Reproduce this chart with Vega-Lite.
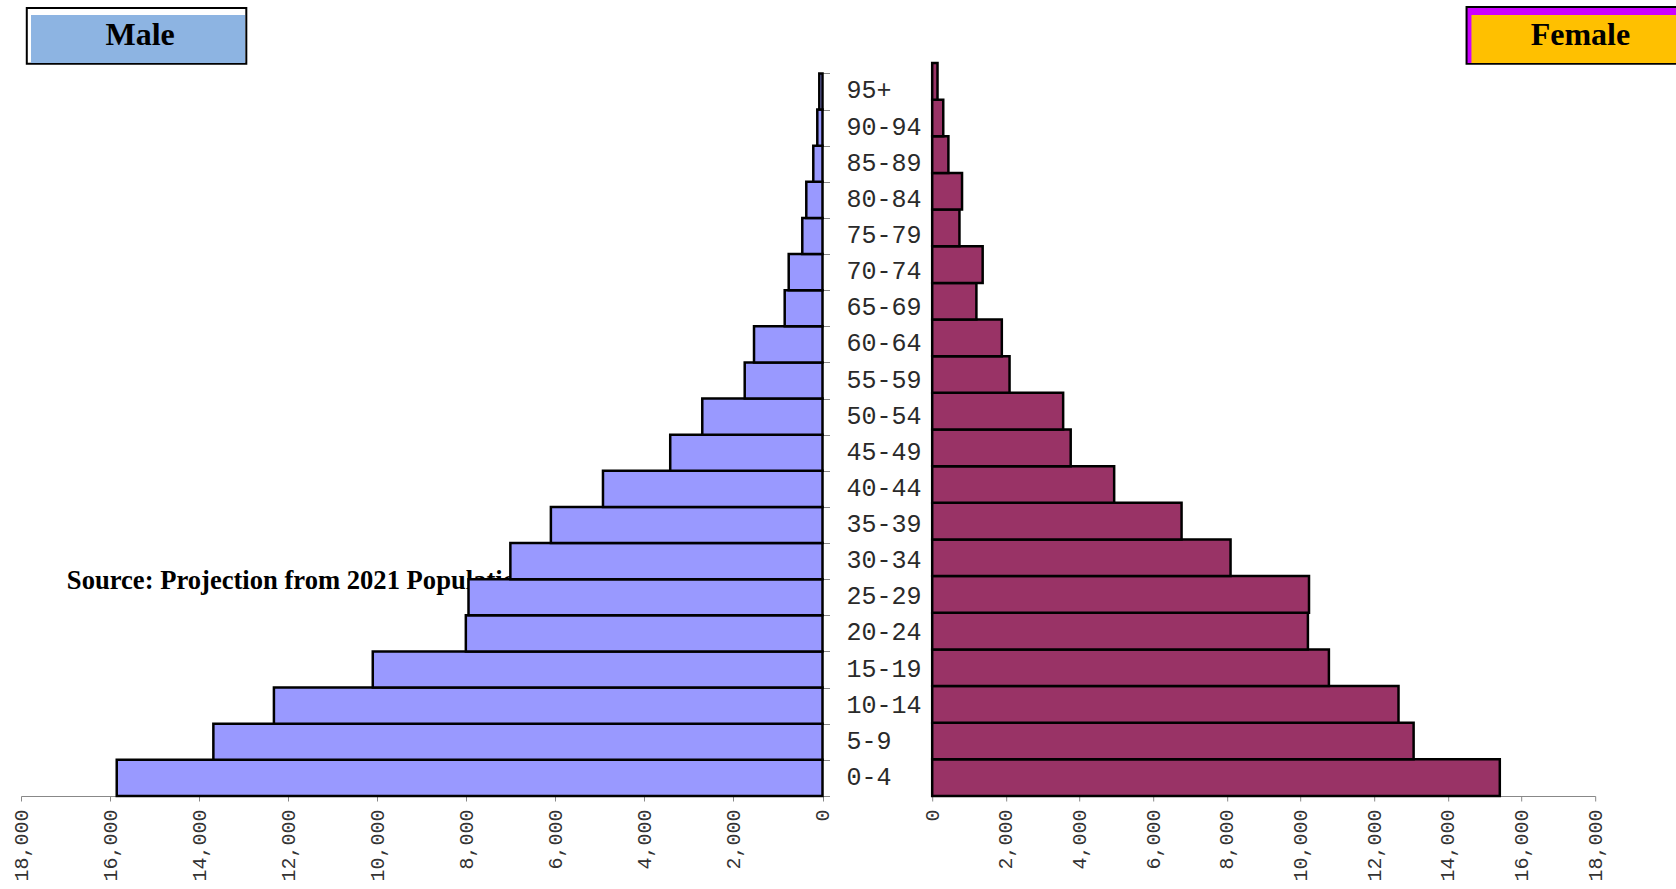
{
  "$schema": "https://vega.github.io/schema/vega-lite/v6.json",
  "padding": {"left": 11, "top": 5, "right": 0, "bottom": 0},
  "background": "white",
  "config": {
    "view": {"stroke": null},
    "axis": {"domainColor": "#888888", "tickColor": "#888888", "labelColor": "#333333", "grid": false}
  },
  "datasets": {
    "pop": [
      {"age": "0-4", "male": 15850, "female": 15410},
      {"age": "5-9", "male": 13680, "female": 13070},
      {"age": "10-14", "male": 12320, "female": 12660},
      {"age": "15-19", "male": 10100, "female": 10770},
      {"age": "20-24", "male": 8010, "female": 10200},
      {"age": "25-29", "male": 7950, "female": 10230},
      {"age": "30-34", "male": 7010, "female": 8100},
      {"age": "35-39", "male": 6100, "female": 6770},
      {"age": "40-44", "male": 4930, "female": 4940},
      {"age": "45-49", "male": 3420, "female": 3760},
      {"age": "50-54", "male": 2700, "female": 3555},
      {"age": "55-59", "male": 1747, "female": 2100},
      {"age": "60-64", "male": 1538, "female": 1890},
      {"age": "65-69", "male": 849, "female": 1200},
      {"age": "70-74", "male": 759, "female": 1370},
      {"age": "75-79", "male": 454, "female": 740},
      {"age": "80-84", "male": 364, "female": 810},
      {"age": "85-89", "male": 207, "female": 440},
      {"age": "90-94", "male": 117, "female": 300},
      {"age": "95+", "male": 72, "female": 144}
    ],
    "maleLabel": [{"label": "Male"}],
    "femaleLabel": [{"label": "Female"}],
    "note": [{"text": "Source: Projection from 2021 Population Census"}]
  },
  "columns": 2,
  "bounds": "flush",
  "align": "each",
  "spacing": {"row": 0, "column": 109.2},
  "resolve": {"scale": {"x": "independent", "y": "independent"}},
  "concat": [
    {
      "width": 801.5,
      "height": 56,
      "data": {"name": "maleLabel"},
      "layer": [
        {
          "mark": {"type": "rect", "fill": "white", "stroke": "black", "strokeWidth": 2},
          "encoding": {
            "x": {"datum": 17870, "type": "quantitative", "scale": {"domain": [0, 18000], "reverse": true, "nice": false, "zero": false}, "axis": null},
            "x2": {"datum": 12940},
            "y": {"datum": 0.982, "type": "quantitative", "scale": {"domain": [0, 1], "nice": false, "zero": false}, "axis": null},
            "y2": {"datum": -0.014}
          }
        },
        {
          "mark": {"type": "rect", "fill": "#8DB4E2"},
          "encoding": {
            "x": {"datum": 17775, "type": "quantitative"},
            "x2": {"datum": 12969},
            "y": {"datum": 0.857, "type": "quantitative"},
            "y2": {"datum": 0}
          }
        },
        {
          "mark": {"type": "text", "font": "Liberation Serif", "fontWeight": "bold", "fontSize": 32, "align": "center", "baseline": "alphabetic", "color": "black"},
          "encoding": {
            "x": {"datum": 15326, "type": "quantitative"},
            "y": {"datum": 0.316, "type": "quantitative"},
            "text": {"field": "label"}
          }
        }
      ]
    },
    {
      "width": 663,
      "height": 56,
      "data": {"name": "femaleLabel"},
      "layer": [
        {
          "mark": {"type": "rect", "fill": "black"},
          "encoding": {
            "x": {"datum": 14480, "type": "quantitative", "scale": {"domain": [0, 18000], "nice": false, "zero": false}, "axis": null},
            "x2": {"datum": 20200},
            "y": {"datum": 1.018, "type": "quantitative", "scale": {"domain": [0, 1], "nice": false, "zero": false}, "axis": null},
            "y2": {"datum": -0.03}
          }
        },
        {
          "mark": {"type": "rect", "fill": "#CC00FF"},
          "encoding": {
            "x": {"datum": 14535, "type": "quantitative"},
            "x2": {"datum": 20200},
            "y": {"datum": 0.982, "type": "quantitative"},
            "y2": {"datum": 0}
          }
        },
        {
          "mark": {"type": "rect", "fill": "#FFC000"},
          "encoding": {
            "x": {"datum": 14640, "type": "quantitative"},
            "x2": {"datum": 20200},
            "y": {"datum": 0.857, "type": "quantitative"},
            "y2": {"datum": 0}
          }
        },
        {
          "mark": {"type": "text", "font": "Liberation Serif", "fontWeight": "bold", "fontSize": 32, "align": "center", "baseline": "alphabetic", "color": "black"},
          "encoding": {
            "x": {"datum": 17600, "type": "quantitative"},
            "y": {"datum": 0.316, "type": "quantitative"},
            "text": {"field": "label"}
          }
        }
      ]
    },
    {
      "width": 801.5,
      "height": 733,
      "layer": [
        {
          "data": {"name": "note"},
          "mark": {"type": "text", "font": "Liberation Serif", "fontWeight": "bold", "fontSize": 26.6, "align": "left", "baseline": "alphabetic", "color": "black"},
          "encoding": {
            "x": {"datum": 16970, "type": "quantitative", "axis": {"title": null}},
            "y": {"datum": "25-29", "type": "nominal", "bandPosition": 0.28, "axis": {"title": null}},
            "text": {"field": "text"}
          }
        },
        {
          "data": {"name": "pop"},
          "mark": {"type": "bar", "fill": "#9999FF", "stroke": "black", "strokeWidth": 2.5},
          "encoding": {
            "x": {
              "field": "male", "type": "quantitative",
              "scale": {"domain": [0, 18000], "reverse": true, "nice": false},
              "axis": {
                "title": null, "values": [0, 2000, 4000, 6000, 8000, 10000, 12000, 14000, 16000, 18000],
                "format": ",.0f", "labelAngle": 270, "labelAlign": "right", "labelBaseline": "middle",
                "labelFlush": false, "labelOverlap": false, "tickSize": 5, "labelPadding": 8,
                "labelFont": "Liberation Mono", "labelFontSize": 20
              }
            },
            "y": {
              "field": "age", "type": "nominal",
              "scale": {
                "domain": ["95+", "90-94", "85-89", "80-84", "75-79", "70-74", "65-69", "60-64", "55-59", "50-54", "45-49", "40-44", "35-39", "30-34", "25-29", "20-24", "15-19", "10-14", "5-9", "0-4"],
                "paddingInner": 0, "paddingOuter": 0.144, "align": 1
              },
              "axis": {
                "title": null, "orient": "right", "tickBand": "extent", "domain": false,
                "tickSize": 7, "labelPadding": 16.5, "labelAlign": "left", "labelBaseline": "middle",
                "labelOffset": -1.5, "labelColor": "#2a2a2a",
                "labelFont": "Liberation Mono", "labelFontSize": 25
              }
            }
          }
        }
      ]
    },
    {
      "width": 663,
      "height": 733,
      "data": {"name": "pop"},
      "mark": {"type": "bar", "fill": "#993366", "stroke": "black", "strokeWidth": 2.5},
      "encoding": {
        "x": {
          "field": "female", "type": "quantitative",
          "scale": {"domain": [0, 18000], "nice": false},
          "axis": {
            "title": null, "values": [0, 2000, 4000, 6000, 8000, 10000, 12000, 14000, 16000, 18000],
            "format": ",.0f", "labelAngle": 270, "labelAlign": "right", "labelBaseline": "middle",
            "labelFlush": false, "labelOverlap": false, "tickSize": 5, "labelPadding": 8,
            "labelFont": "Liberation Mono", "labelFontSize": 20
          }
        },
        "y": {
          "field": "age", "type": "nominal",
          "scale": {
            "domain": ["95+", "90-94", "85-89", "80-84", "75-79", "70-74", "65-69", "60-64", "55-59", "50-54", "45-49", "40-44", "35-39", "30-34", "25-29", "20-24", "15-19", "10-14", "5-9", "0-4"],
            "paddingInner": 0, "paddingOuter": 0
          },
          "axis": null
        }
      }
    }
  ]
}
